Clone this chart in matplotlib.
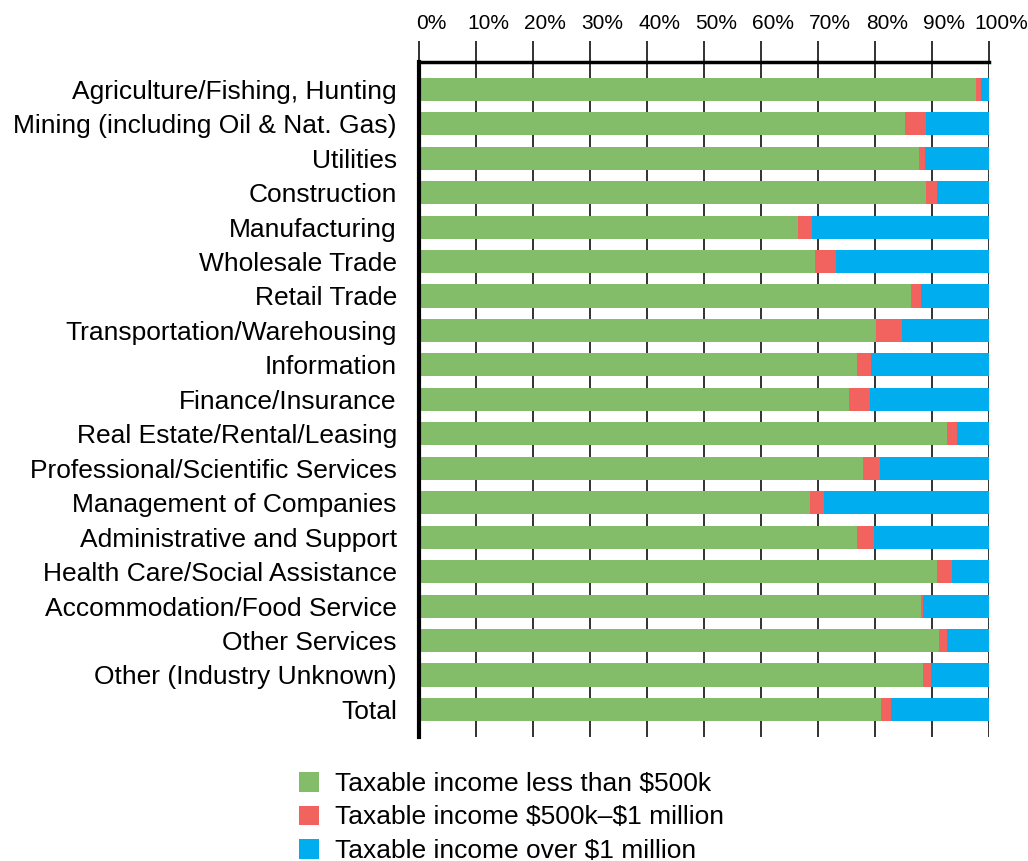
import numpy as np
import matplotlib
matplotlib.use("Agg")
from matplotlib import pyplot as plt
from matplotlib.transforms import ScaledTranslation

industries = [
    "Agriculture/Fishing, Hunting",
    "Mining (including Oil & Nat. Gas)",
    "Utilities",
    "Construction",
    "Manufacturing",
    "Wholesale Trade",
    "Retail Trade",
    "Transportation/Warehousing",
    "Information",
    "Finance/Insurance",
    "Real Estate/Rental/Leasing",
    "Professional/Scientific Services",
    "Management of Companies",
    "Administrative and Support",
    "Health Care/Social Assistance",
    "Accommodation/Food Service",
    "Other Services",
    "Other (Industry Unknown)",
    "Total",
]

# shares in percent
under_500k = [97.8, 85.3, 87.8, 88.9, 66.4, 69.5, 86.3, 80.2, 76.8, 75.4,
              92.7, 77.9, 68.6, 76.8, 90.9, 88.1, 91.2, 88.4, 81.1]
from_500k_to_1m = [0.8, 3.6, 1.0, 2.0, 2.5, 3.6, 1.8, 4.5, 2.5, 3.7,
                   1.7, 2.9, 2.4, 3.0, 2.6, 0.4, 1.5, 1.4, 1.7]
over_1m = [1.4, 11.1, 11.2, 9.1, 31.1, 26.9, 11.9, 15.3, 20.7, 20.9,
           5.6, 19.2, 29.0, 20.2, 6.5, 11.5, 7.3, 10.2, 17.2]

series_names = ["Taxable income less than $500k",
                "Taxable income $500k\u2013$1 million",
                "Taxable income over $1 million"]
colors = ["#84BD6A", "#F2635F", "#00AEEF"]

plt.rcParams['font.family'] = ['Liberation Sans', 'DejaVu Sans']
plt.rcParams['text.parse_math'] = False

fig = plt.figure(figsize=(10.28, 8.61), dpi=100)
ax = fig.add_axes([0.4076, 0.144, 0.5545, 0.7836])

y = np.arange(len(industries))
a = np.array(under_500k)
b = np.array(from_500k_to_1m)
c = np.array(over_1m)

h = 0.67
ax.barh(y, a, height=h, color=colors[0], label=series_names[0], zorder=2)
ax.barh(y, b, left=a, height=h, color=colors[1], label=series_names[1], zorder=2)
ax.barh(y, c, left=a + b, height=h, color=colors[2], label=series_names[2], zorder=2)

ax.set_xlim(0, 100)
ax.set_ylim(18.8, -0.78)
ax.set_xticks(np.arange(0, 101, 10))
ax.set_xticklabels([f"{v}%" for v in range(0, 101, 10)])
ax.xaxis.tick_top()
ax.tick_params(axis='x', direction='out', length=15, width=1.3, pad=6,
               labelsize=15, color='#222222')
ax.set_yticks(y)
ax.set_yticklabels(industries)
ax.tick_params(axis='y', length=0, pad=16, labelsize=19)

# labels sit a little right of their ticks in the original
for lab in ax.get_xticklabels():
    lab.set_transform(lab.get_transform() + ScaledTranslation(12 / 100, 0, fig.dpi_scale_trans))

ax.grid(axis='x', color='#222222', linewidth=1.3, zorder=0)
ax.set_axisbelow(True)

for s in ['right', 'bottom']:
    ax.spines[s].set_visible(False)
ax.spines['top'].set_linewidth(2.5)
ax.spines['left'].set_linewidth(3)

fig.legend(loc='upper left', bbox_to_anchor=(299 / 1028, 1 - 772 / 861),
           frameon=False, fontsize=19, handlelength=0.76, handleheight=0.76,
           handletextpad=0.6, labelspacing=0.36, borderpad=0, borderaxespad=0)

plt.savefig('out.png', dpi=100)
